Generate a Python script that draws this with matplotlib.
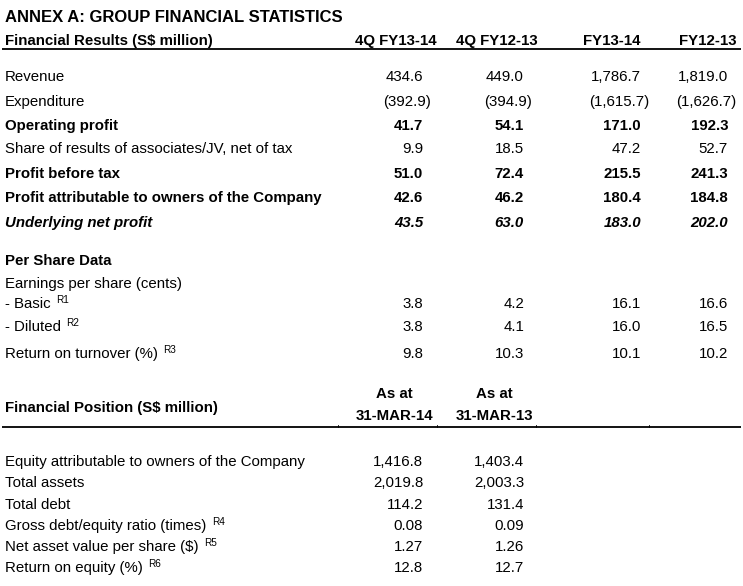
import matplotlib
matplotlib.use("Agg")
import matplotlib.pyplot as plt

plt.rcParams['font.family'] = ['Liberation Sans', 'DejaVu Sans']

# ---- data ----
title = "ANNEX A: GROUP FINANCIAL STATISTICS"
results_header = "Financial Results (S$ million)"
results_columns = ["4Q FY13-14", "4Q FY12-13", "FY13-14", "FY12-13"]
results_labels = ["Revenue", "Expenditure", "Operating profit",
                  "Share of results of associates/JV, net of tax",
                  "Profit before tax",
                  "Profit attributable to owners of the Company",
                  "Underlying net profit"]
q4_fy1314 = [434.6, -392.9, 41.7, 9.9, 51.0, 42.6, 43.5]
q4_fy1213 = [449.0, -394.9, 54.1, 18.5, 72.4, 46.2, 63.0]
fy1314 = [1786.7, -1615.7, 171.0, 47.2, 215.5, 180.4, 183.0]
fy1213 = [1819.0, -1626.7, 192.3, 52.7, 241.3, 184.8, 202.0]

per_share_header = "Per Share Data"
eps_label = "Earnings per share (cents)"
per_share_labels = ["- Basic", "- Diluted", "Return on turnover (%)"]
per_share_refs = ["R1", "R2", "R3"]
ps_q4_fy1314 = [3.8, 3.8, 9.8]
ps_q4_fy1213 = [4.2, 4.1, 10.3]
ps_fy1314 = [16.1, 16.0, 10.1]
ps_fy1213 = [16.6, 16.5, 10.2]

position_header = "Financial Position (S$ million)"
position_columns = ["31-MAR-14", "31-MAR-13"]
position_labels = ["Equity attributable to owners of the Company", "Total assets",
                   "Total debt", "Gross debt/equity ratio (times)",
                   "Net asset value per share ($)", "Return on equity (%)"]
position_refs = [None, None, None, "R4", "R5", "R6"]
pos_mar14 = [1416.8, 2019.8, 114.2, 0.08, 1.27, 12.8]
pos_mar13 = [1403.4, 2003.3, 131.4, 0.09, 1.26, 12.7]
position_decimals = [1, 1, 1, 2, 2, 1]

# ---- layout (pixels) ----
fig = plt.figure(figsize=(7.43, 5.86), dpi=100)
ax = fig.add_axes([0, 0, 1, 1])
ax.set_xlim(0, 743)
ax.set_ylim(586, 0)
ax.axis('off')

FS = 10.8
LEFT = 5
DY = 2  # va='center' counts descenders, nudge rows down
col_right = [423, 524, 641, 728]
head_right = [437, 538, 640, 736]
results_y = [75, 100, 124, 147, 172, 196, 221]
results_bold = [False, False, True, False, True, True, True]
results_italic = [False, False, False, False, False, False, True]


def fmt(v, d=1):
    if v < 0:
        return "({:,.{}f})".format(abs(v), d)
    return "{:,.{}f}".format(v, d)


def put_value(x, y, v, d=1, **kw):
    # closing bracket hangs to the right of the column
    xx = x + 8 if v < 0 else x
    ax.text(xx, y + DY, fmt(v, d), ha='right', va='center', fontsize=FS, **kw)


def put_label(y, label, ref=None, **kw):
    t = ax.text(LEFT, y + DY, label, ha='left', va='center', fontsize=FS, **kw)
    if ref:
        ax.annotate(ref, xy=(1, 1), xycoords=t, xytext=(4, 1.5),
                    textcoords='offset points', fontsize=7.2,
                    ha='left', va='top')
    return t


ax.text(LEFT, 15 + DY, title, ha='left', va='center', fontsize=12,
        fontweight='bold')
ax.text(LEFT, 39 + DY, results_header, ha='left', va='center', fontsize=FS,
        fontweight='bold')
for x, c in zip(head_right, results_columns):
    ax.text(x, 39 + DY, c, ha='right', va='center', fontsize=FS,
            fontweight='bold')
ax.plot([2, 741], [49, 49], color='black', lw=1.3, solid_capstyle='butt')

cols = [q4_fy1314, q4_fy1213, fy1314, fy1213]
for i, lab in enumerate(results_labels):
    kw = {}
    if results_bold[i]:
        kw['fontweight'] = 'bold'
    if results_italic[i]:
        kw['fontstyle'] = 'italic'
    put_label(results_y[i], lab, **kw)
    for x, series in zip(col_right, cols):
        put_value(x, results_y[i], series[i], **kw)

# per share block
ax.text(LEFT, 259 + DY, per_share_header, ha='left', va='center', fontsize=FS,
        fontweight='bold')
put_label(282, eps_label)
ps_y = [302, 325, 352]
ps_cols = [ps_q4_fy1314, ps_q4_fy1213, ps_fy1314, ps_fy1213]
for i, lab in enumerate(per_share_labels):
    put_label(ps_y[i], lab, per_share_refs[i])
    for x, series in zip(col_right, ps_cols):
        put_value(x, ps_y[i], series[i])

# financial position block
ax.text(LEFT, 406 + DY, position_header, ha='left', va='center', fontsize=FS,
        fontweight='bold')
for x, c in zip([433, 533], position_columns):
    t = ax.text(x, 414 + DY, c, ha='right', va='center', fontsize=FS,
                fontweight='bold')
    ax.annotate("As at", xy=(0.5, 1), xycoords=t, xytext=(0, 11),
                textcoords='offset points', ha='center', va='center',
                fontsize=FS, fontweight='bold')
ax.plot([2, 741], [427, 427], color='black', lw=1.3, solid_capstyle='butt')
for x in [338, 437, 536, 649]:
    ax.plot([x, x], [424.5, 427], color='black', lw=0.6)

pos_y = [460, 481, 503, 524, 545, 566]
for i, lab in enumerate(position_labels):
    put_label(pos_y[i], lab, position_refs[i])
    for x, series in zip(col_right[:2], [pos_mar14, pos_mar13]):
        put_value(x, pos_y[i], series[i], position_decimals[i])

fig.savefig("out.png", dpi=100, facecolor='white')
